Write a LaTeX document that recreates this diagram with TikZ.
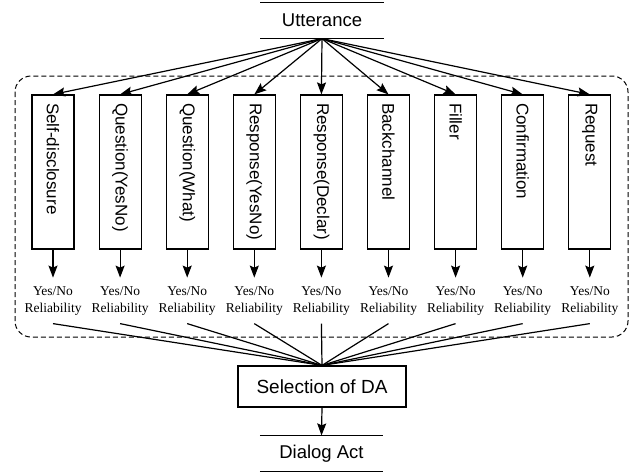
\documentclass[tikz,border=0pt]{standalone}
\usepackage{fontspec}
\setmainfont{Liberation Serif}
\setsansfont{Liberation Sans}
\usetikzlibrary{arrows.meta}

\begin{document}
\begin{tikzpicture}[x=1pt,y=-1pt,line width=1.2pt,
    arr/.style={-{Stealth[length=12pt,width=9pt,inset=2pt]}},
    dabox/.style={draw,minimum width=42pt,minimum height=154pt,inner sep=0pt},
    dalabel/.style={rotate=-90,anchor=west,inner sep=0pt,font=\sffamily\fontsize{17}{20}\selectfont},
    endbox/.style={minimum width=122pt,minimum height=35pt,inner sep=0pt,font=\sffamily\fontsize{18.5}{22}\selectfont},
    result/.style={align=center,anchor=north,inner xsep=2pt,inner ysep=8pt,font=\fontsize{13.5}{17}\selectfont}]
    \useasboundingbox (0,0) rectangle (637,475);

    \node[endbox] (utt) at (322,20.5) {Utterance};
    \draw (utt.north west) -- (utt.north east);
    \draw (utt.south west) -- (utt.south east);

    \draw[dashed,dash pattern=on 5pt off 3pt,line width=1pt,rounded corners=16pt] (15,76) rectangle (628,337);

    \node[draw,minimum width=168pt,minimum height=41pt,inner sep=0pt,font=\sffamily\fontsize{19}{22}\selectfont] (sel) at (322,386.5) {Selection of DA};

    \foreach \name [count=\i from 0] in {Self-disclosure,Question(YesNo),Question(What),Response(YesNo),Response(Declar),Backchannel,Filler,Confirmation,Request}{
        \node[dabox] (b\i) at ({53+67.1*\i},172) {};
        \node[dalabel] (l\i) at ([yshift=-8pt]b\i.north) {\name};
        \node[result] (r\i) at ([yshift=-28pt]b\i.south) {Yes/No\\Reliability};
        \draw[arr] (utt.south) -- (b\i.north);
        \draw[arr] (b\i.south) -- (r\i.north);
        \draw (r\i.south) -- (sel.north);
    }

    \node[endbox] (act) at (321.5,453.5) {Dialog Act};
    \draw (act.north west) -- (act.north east);
    \draw (act.south west) -- (act.south east);
    \draw[arr] (sel.south) -- (act.north);
\end{tikzpicture}
\end{document}
